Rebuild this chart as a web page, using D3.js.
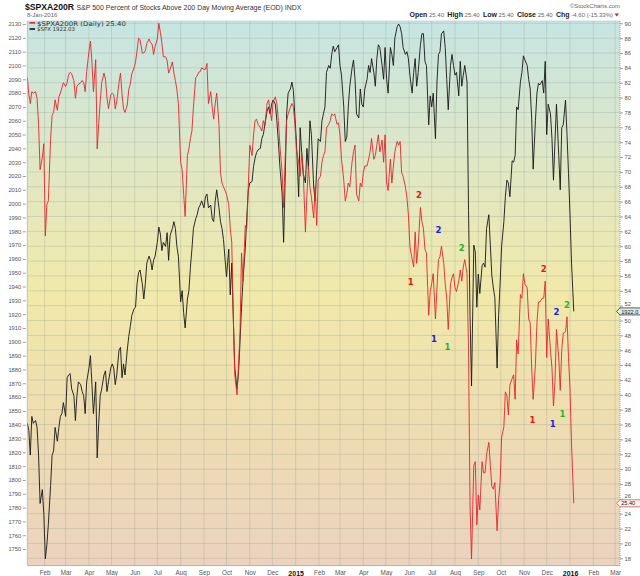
<!DOCTYPE html>
<html>
<head>
<meta charset="utf-8">
<script src="https://cdn.jsdelivr.net/npm/d3@7"></script>
<style>
  body { margin: 0; background: #fff; }
  svg { display: block; font-family: "Liberation Sans", Arial, sans-serif; }
</style>
</head>
<body>
<svg id="chart" width="640" height="576"></svg>
<script>
// calendar days after 9 Jan 2014 for each sample
const dayNum = [
  0,2,4,6,8,11,13,15,17,20, 22,24,26,28,31,33,35,37,40,42,
  44,46,48,51,53,55,57,59,62,64, 66,68,71,73,75,77,79,82,84,86,
  88,91,93,95,97,99,102,104,106,108, 111,113,115,117,119,122,124,126,128,130,
  133,135,137,139,142,144,146,148,150,153, 155,157,159,162,164,166,168,170,173,175,
  177,179,181,184,186,188,190,193,195,197, 199,201,204,206,208,210,213,215,217,219,
  221,224,226,228,230,232,235,237,239,241, 244,246,248,250,252,255,257,259,261,
  265,268,270,272,274,276,279,281,283,285, 287,290,292,294,296,299,301,303,305,307,
  310,312,314,316,319,321,323,325,327,330, 332,334,336,339,341,343,345,347,350,352,
  354,356,358,361,363,365,367,370,372,374, 376,378,381,383,385,387,390,392,394,396,
  398,401,403,405,407,409,412,414,416,418, 421,423,425,427,429,432,434,436,438,441,
  443,445,447,449,452,454,456,458,461,463, 465,467,469,472,474,476,478,480,483,485,
  487,489,492,494,496,498,500,503,505,507, 509,512,514,516,518,520,
  523,525,527,529,531,534,536,538,540,543, 545,547,549,551,554,556,558,560,563,565,
  567,569,571,574,576,578,580,582,585,587, 589,591,594,596,598,600,602,605,607,609,
  611,614,616,618,620,622,625,627,629,631, 634,636,638,640,642,645,647,649,651,653,
  656,658,660,662,665,667,669,671,673,676, 678,680,682,685,687,689,691,693,696,698,
  700,702,704,707,709,711,713,716,718,720, 722,724,727
];

// $SPX close (left axis)
const spxClose = [
  1841,1836,1818,1846,1841,1843,1838,1818,1783,1793, 1775,1743,1753,1768,1796,1818,1821,1838,1828,1838,
  1846,1848,1856,1846,1874,1876,1877,1866,1861,1843, 1861,1871,1869,1864,1861,1848,1871,1881,1890,1869,
  1848,1871,1816,1841,1861,1866,1876,1879,1864,1871, 1881,1884,1881,1869,1876,1894,1896,1874,1884,1876,
  1894,1904,1911,1919,1924,1925,1942,1950,1952,1942, 1931,1942,1957,1962,1959,1952,1959,1962,1972,1983,
  1978,1966,1972,1969,1979,1959,1977,1982,1987,1982, 1969,1962,1929,1937,1921,1910,1931,1937,1954,1967,
  1982,1989,1992,1997,1999,2002,1997,2005,2007,1997, 1999,1989,1987,2002,2010,1997,1987,1982,1974,
  1947,1967,1934,1957,1919,1881,1866,1878,1900,1925, 1945,1968,1990,2010,2015,2016,2027,2033,2037,2039,
  2040,2047,2050,2057,2067,2070,2065,2072,2075,2072, 2060,2045,2027,2007,1972,2017,2065,2080,2083,2088,
  2082,2063,2045,2005,2055,2037,2022,2015,2040,2025, 2060,2050,2012,2002,2025,2047,2045,2060,2065,2070,
  2095,2100,2098,2108,2114,2110,2113,2115,2100,2093, 2070,2045,2048,2070,2085,2098,2104,2090,2065,2062,
  2083,2072,2070,2083,2090,2100,2095,2105,2095,2085, 2105,2115,2113,2100,2090,2113,2090,2080,2113,2108,
  2100,2120,2128,2130,2128,2123,2113,2108,2110,2105, 2093,2080,2095,2105,2085,2095,
  2115,2123,2123,2103,2100,2057,2078,2070,2080,2047, 2088,2108,2110,2123,2125,2113,2090,2068,2100,2108,
  2100,2093,2095,2078,2103,2085,2093,2100,2088,1995, 1919,1868,1970,1965,1925,1949,1935,1955,1957,1954,
  1982,1992,1970,1948,1939,1932,1881,1919,1942,1969, 1987,2005,2017,2015,2005,2031,2030,2035,2070,2068,
  2088,2095,2107,2104,2100,2090,2083,2062,2025,2060, 2080,2087,2086,2089,2080,2103,2050,2072,2065,2047,
  2017,2045,2072,2035,2010,2055,2057,2075,2050,2022, 1992,1957,1922
];

// $SPXA200R, percent of S&P 500 stocks above their 200 day MA (right axis)
const pctAbove200 = [
  82.7,80.5,79.2,80.8,80.6,80.8,79.9,76.4,70.3,72.0, 73.8,61.4,65.6,66.1,74.5,77.6,78.0,79.7,78.3,80.1,
  80.6,81.3,82.0,81.5,82.0,83.1,83.4,83.2,82.3,79.9, 81.5,81.8,82.0,82.3,82.0,80.8,83.5,86.2,87.6,84.8,
  80.8,85.1,73.1,76.5,79.5,82.0,83.3,82.5,80.0,78.5, 80.4,80.6,80.4,78.5,79.5,82.0,83.3,80.5,78.5,78.0,
  79.0,81.1,81.8,83.2,84.0,84.8,86.3,88.0,87.8,86.0, 86.0,86.3,87.3,87.9,87.4,87.2,85.8,86.9,87.9,90.0,
  88.8,87.4,85.5,85.5,85.0,83.3,83.8,84.8,83.3,82.3, 81.1,79.2,71.3,70.3,67.0,64.0,72.2,73.1,74.5,75.5,
  78.7,82.7,82.9,83.4,83.5,84.0,83.8,83.8,84.6,79.2, 80.8,78.7,77.1,79.2,80.6,76.4,69.9,68.5,68.0,
  67.0,65.6,62.4,60.5,50.7,42.7,40.0,44.0,48.5,59.1, 55.3,62.8,62.4,68.0,73.6,72.2,75.0,76.9,77.1,76.4,
  76.0,75.5,76.9,76.2,79.2,79.7,78.3,76.9,79.4,80.1, 79.2,76.9,73.6,69.9,65.2,71.7,76.9,77.8,78.7,79.2,
  78.7,76.4,73.1,71.3,69.4,72.7,70.3,61.9,67.0,70.8, 68.0,66.6,63.8,68.0,62.8,68.9,69.4,71.3,72.2,72.7,
  75.9,76.4,76.9,77.8,77.6,77.8,76.4,76.6,75.0,71.7, 68.9,66.1,67.0,68.5,68.0,71.3,72.7,73.6,67.0,66.1,
  68.5,68.0,69.9,70.8,70.8,71.7,72.7,74.5,71.7,72.2, 73.6,75.0,72.7,74.3,71.3,75.0,68.5,67.5,71.7,68.5,
  70.8,72.7,74.1,73.6,74.1,69.9,69.4,68.0,66.6,64.2, 60.0,58.2,57.2,61.9,57.7,60.0,
  65.2,63.3,62.4,59.6,59.1,50.7,53.9,55.0,56.3,50.2, 54.4,58.2,58.6,60.0,57.7,54.9,53.0,48.8,54.9,55.8,
  56.3,54.4,53.9,55.3,56.8,55.3,57.2,58.2,56.3,46.0, 25.0,17.9,30.5,31.0,22.5,26.5,24.5,31.0,29.5,29.5,
  32.0,33.6,30.5,27.7,27.3,28.2,21.7,25.9,28.2,34.3, 35.7,40.4,39.9,37.3,41.3,42.2,42.7,39.4,47.4,45.5,
  53.5,53.0,56.3,54.9,54.4,50.2,49.7,43.6,39.4,44.1, 49.7,52.5,52.5,53.0,53.0,55.3,45.0,50.2,46.0,43.6,
  38.5,41.8,48.8,45.0,40.6,46.0,48.3,48.5,50.5,45.0, 40.8,33.4,25.4
];

// hand drawn wave counts (placed against the right axis)
const waveText  = ["2","1","2","2","1","1","2","2","2","1","1","1"];
const waveGroup = ["red","red","blue","green","blue","green","red","blue","green","red","blue","green"];
const waveDay   = [521,510,547,578,541,559,687,704,718,672,699,712];
const waveValue = [66.9,55.2,62.2,59.7,47.5,46.4,57.0,51.1,52.1,36.6,36.1,37.4];

const xTickLabels = ["Feb","Mar","Apr","May","Jun","Jul","Aug","Sep","Oct","Nov","Dec",
  "2015","Feb","Mar","Apr","May","Jun","Jul","Aug","Sep","Oct","Nov","Dec",
  "2016","Feb","Mar"];

/////////////////////////////////////////////////
const start = new Date(2014, 0, 9);
const toDate = n => d3.timeDay.offset(start, n);

const plot = { left: 27.3, right: 620, top: 21, bottom: 565.5 };
const waveColor = { red: "#e3161c", blue: "#2020e0", green: "#2bb32b" };

const x = d3.scaleTime()
  .domain([start, new Date(2016, 2, 7, 12)])
  .range([plot.left, plot.right]);
const ySpx = d3.scaleLinear().domain([1738.1, 2132.2]).range([plot.bottom, plot.top]);
const yPct = d3.scaleLinear().domain([17.03, 90.31]).range([plot.bottom, plot.top]);

const monthTicks = d3.timeMonth.range(new Date(2014, 1, 1), new Date(2016, 2, 2));
const pctTicks = d3.range(18, 91, 2);
const spxTicks = d3.range(1750, 2131, 10);

const svg = d3.select("#chart");

// background gradient of the plot
const grad = svg.append("defs").append("linearGradient")
  .attr("id", "bg").attr("x1", 0).attr("y1", 0).attr("x2", 0).attr("y2", 1);
[[0, "#c6e5e2"], [0.25, "#dfe7c6"], [0.5, "#f1e9aa"], [0.75, "#eedcb2"], [1, "#ebd3bf"]]
  .forEach(s => grad.append("stop").attr("offset", s[0]).attr("stop-color", s[1]));

svg.append("rect")
  .attr("x", plot.left).attr("y", plot.top)
  .attr("width", plot.right - plot.left).attr("height", plot.bottom - plot.top)
  .attr("fill", "url(#bg)");

// grid
const grid = svg.append("g").attr("stroke", "#7d8a80").attr("stroke-opacity", 0.28).attr("stroke-width", 0.8);
grid.selectAll("line.h").data(pctTicks).enter().append("line")
  .attr("x1", plot.left).attr("x2", plot.right)
  .attr("y1", d => yPct(d)).attr("y2", d => yPct(d));
grid.selectAll("line.v").data(monthTicks).enter().append("line")
  .attr("y1", plot.top).attr("y2", plot.bottom)
  .attr("x1", d => x(d)).attr("x2", d => x(d));

// plot frame
svg.append("line").attr("x1", plot.left).attr("x2", plot.left).attr("y1", plot.top).attr("y2", plot.bottom)
  .attr("stroke", "#a9b8bd").attr("stroke-width", 0.8);
svg.append("line").attr("x1", plot.left).attr("x2", plot.right).attr("y1", plot.bottom).attr("y2", plot.bottom)
  .attr("stroke", "#a9b8bd").attr("stroke-width", 1);
svg.append("line").attr("x1", plot.left).attr("x2", plot.right).attr("y1", plot.top).attr("y2", plot.top)
  .attr("stroke", "#b9c8c8").attr("stroke-width", 0.6);
svg.append("line").attr("x1", plot.right).attr("x2", plot.right).attr("y1", plot.top).attr("y2", plot.bottom)
  .attr("stroke", "#8a9699").attr("stroke-width", 0.9).attr("stroke-dasharray", "1,1");

// axes
const styleAxis = g => {
  g.select(".domain").remove();
  g.selectAll(".tick line").attr("stroke", "#777").attr("stroke-width", 0.7);
  g.selectAll(".tick text").attr("fill", "#555").attr("font-size", "5.8px")
    .attr("font-family", "Liberation Sans, Arial, sans-serif");
};

svg.append("g")
  .attr("transform", `translate(${plot.left - 1.5},0)`)
  .call(d3.axisLeft(ySpx).tickValues(spxTicks).tickFormat(d3.format("d")).tickSize(3).tickPadding(1.5))
  .call(styleAxis);

// last values get a tag on the right axis; tick labels next to a tag are nudged off it
const tagY = [ySpx(spxClose[spxClose.length - 1]), yPct(pctAbove200[pctAbove200.length - 1])];

svg.append("g")
  .attr("transform", `translate(${plot.right},0)`)
  .call(d3.axisRight(yPct).tickValues(pctTicks).tickFormat(d3.format("d")).tickSize(3).tickPadding(1.5))
  .call(styleAxis)
  .call(g => g.selectAll(".tick text").attr("transform", d => {
    const t = tagY.find(v => Math.abs(yPct(d) - v) < 7.5);
    if (t === undefined) return null;
    const dist = yPct(d) - t;
    return `translate(0,${(Math.sign(dist) * (7.5 - Math.abs(dist))).toFixed(2)})`;
  }));

svg.append("g")
  .attr("transform", `translate(0,${plot.bottom})`)
  .call(d3.axisBottom(x).tickValues(monthTicks).tickSize(0).tickPadding(5.5)
    .tickFormat((d, i) => xTickLabels[i]))
  .call(g => {
    g.select(".domain").remove();
    g.selectAll(".tick text")
      .attr("font-family", "Liberation Sans, Arial, sans-serif")
      .attr("fill", (d, i) => /^\d+$/.test(xTickLabels[i]) ? "#111" : "#555")
      .attr("font-weight", (d, i) => /^\d+$/.test(xTickLabels[i]) ? "bold" : "normal")
      .attr("font-size", (d, i) => /^\d+$/.test(xTickLabels[i]) ? "7px" : "6.3px");
  });

// lines
const points = dayNum.map((n, i) => ({ date: toDate(n), spx: spxClose[i], pct: pctAbove200[i] }));

svg.append("clipPath").attr("id", "clip").append("rect")
  .attr("x", plot.left).attr("y", plot.top)
  .attr("width", plot.right - plot.left).attr("height", plot.bottom - plot.top);

svg.append("path")
  .datum(points)
  .attr("clip-path", "url(#clip)")
  .attr("fill", "none").attr("stroke", "#161616").attr("stroke-width", 0.9)
  .attr("stroke-linejoin", "round")
  .attr("d", d3.line().x(d => x(d.date)).y(d => ySpx(d.spx)));

svg.append("path")
  .datum(points)
  .attr("clip-path", "url(#clip)")
  .attr("fill", "none").attr("stroke", "#e3262b").attr("stroke-width", 0.9)
  .attr("stroke-linejoin", "round")
  .attr("d", d3.line().x(d => x(d.date)).y(d => yPct(d.pct)));

// wave count labels
svg.append("g").selectAll("text")
  .data(waveText)
  .enter()
    .append("text")
    .text(d => d)
    .attr("x", (d, i) => x(toDate(waveDay[i])))
    .attr("y", (d, i) => yPct(waveValue[i]))
    .attr("text-anchor", "middle")
    .attr("dominant-baseline", "central")
    .attr("font-size", "8.5px")
    .attr("font-weight", "bold")
    .attr("font-family", "DejaVu Sans, sans-serif")
    .attr("fill", (d, i) => waveColor[waveGroup[i]]);

// right axis value tags
function tag(yc, label, stroke, fill) {
  const g = svg.append("g");
  g.append("path")
    .attr("d", `M${plot.right - 3.5},${yc} L${plot.right},${yc - 3.5} L641,${yc - 3.5} L641,${yc + 3.5} L${plot.right},${yc + 3.5} Z`)
    .attr("fill", fill).attr("stroke", stroke).attr("stroke-width", 0.8);
  g.append("text").text(label)
    .attr("x", plot.right + 1.2).attr("y", yc + 2.1)
    .attr("font-size", "5.6px").attr("fill", "#222");
}
tag(tagY[0], "1922.0", "#333", "#d9eeee");
tag(tagY[1], "25.40", "#e05555", "#fbf3ee");

// legend
const legend = svg.append("g").attr("font-family", "DejaVu Sans, sans-serif");
legend.append("line").attr("x1", 29.5).attr("x2", 35).attr("y1", 22.8).attr("y2", 22.8)
  .attr("stroke", "#e3262b").attr("stroke-width", 1.6);
legend.append("text").text("$SPXA200R (Daily) 25.40")
  .attr("x", 37).attr("y", 25.6).attr("font-size", "6.4px").attr("fill", "#333")
  .attr("textLength", 89).attr("lengthAdjust", "spacingAndGlyphs");
legend.append("line").attr("x1", 29.5).attr("x2", 35).attr("y1", 29).attr("y2", 29)
  .attr("stroke", "#111").attr("stroke-width", 1.6);
legend.append("text").text("$SPX 1922.03")
  .attr("x", 37).attr("y", 31.3).attr("font-size", "5.6px").attr("fill", "#333")
  .attr("textLength", 38).attr("lengthAdjust", "spacingAndGlyphs");

// header
svg.append("text").text("$SPXA200R")
  .attr("x", 25).attr("y", 10.3).attr("font-size", "9.4px").attr("font-weight", "bold").attr("fill", "#111")
  .attr("textLength", 49).attr("lengthAdjust", "spacingAndGlyphs");
svg.append("text").text("S&P 500 Percent of Stocks Above 200 Day Moving Average (EOD) INDX")
  .attr("x", 76.5).attr("y", 10.1).attr("font-size", "6.9px").attr("fill", "#333")
  .attr("textLength", 225).attr("lengthAdjust", "spacingAndGlyphs");
svg.append("text").text("8-Jan-2016")
  .attr("x", 27).attr("y", 17.3).attr("font-size", "6px").attr("fill", "#666");
svg.append("text").text("\u00a9StockCharts.com")
  .attr("x", 620).attr("y", 8).attr("text-anchor", "end").attr("font-size", "6px").attr("fill", "#666");

const ohlc = svg.append("text").attr("x", 613).attr("y", 17.4).attr("text-anchor", "end")
  .attr("xml:space", "preserve");
[["Open", " 25.40  "], ["High", " 25.40  "], ["Low", " 25.40  "], ["Close", " 25.40  "], ["Chg", " -4.60 (-15.33%)"]]
  .forEach(p => {
    ohlc.append("tspan").text(p[0]).attr("font-weight", "bold").attr("font-size", "7px").attr("fill", "#222");
    ohlc.append("tspan").text(p[1]).attr("font-size", "6px").attr("fill", "#666");
  });
svg.append("path").attr("d", "M614.5,13.6 L619,13.6 L616.75,16.6 Z").attr("fill", "#d81c1c");
</script>
</body>
</html>
